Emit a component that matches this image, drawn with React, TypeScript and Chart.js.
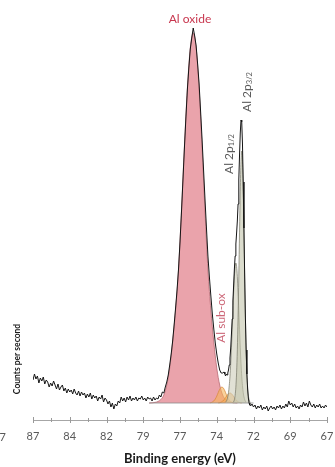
import React, { useEffect, useRef } from 'react';
import { Chart, registerables } from 'chart.js';

Chart.register(...registerables);

const FONT = 'Lato, "Open Sans", "DejaVu Sans", sans-serif';

// ---- Measured spectrum (binding energy, eV) ----
const spectrumEnergy = [
  87.0, 86.9, 86.8, 86.7, 86.6, 86.5, 86.4, 86.3, 86.2, 86.1,
  86.0, 85.9, 85.8, 85.7, 85.6, 85.5, 85.4, 85.3, 85.2, 85.1,
  85.0, 84.9, 84.8, 84.7, 84.6, 84.5, 84.4, 84.3, 84.2, 84.1,
  84.0, 83.9, 83.8, 83.7, 83.6, 83.5, 83.4, 83.3, 83.2, 83.1,
  83.0, 82.9, 82.8, 82.7, 82.6, 82.5, 82.4, 82.3, 82.2, 82.1,
  82.0, 81.9, 81.8, 81.7, 81.6, 81.5, 81.4, 81.3, 81.2, 81.1,
  81.0, 80.9, 80.8, 80.7, 80.6, 80.5, 80.4, 80.3, 80.2, 80.1,
  80.0, 79.9, 79.8, 79.7, 79.6, 79.5, 79.4, 79.3, 79.2, 79.1,
  79.0, 78.9, 78.8, 78.7, 78.6, 78.5, 78.4, 78.3, 78.2, 78.1,
  78.0, 77.9, 77.8, 77.7, 77.6, 77.5, 77.4, 77.3, 77.2, 77.1,
  77.0, 76.9, 76.8, 76.7, 76.6, 76.5, 76.4, 76.3, 76.2, 76.1,
  76.0, 75.9, 75.8, 75.7, 75.6, 75.5, 75.4, 75.3, 75.2, 75.1,
  75.0, 74.9, 74.8, 74.7, 74.6, 74.5, 74.4, 74.3, 74.2, 74.1,
  74.0,
  73.95, 73.9, 73.85, 73.8, 73.75, 73.7, 73.65, 73.6, 73.55, 73.5,
  73.45, 73.4, 73.35, 73.3, 73.25, 73.2, 73.15, 73.1, 73.05, 73.0,
  72.95, 72.9, 72.85, 72.8, 72.75, 72.7, 72.65, 72.6, 72.55, 72.5,
  72.45, 72.4, 72.35, 72.3, 72.25,
  72.2, 72.1, 72.0, 71.9, 71.8, 71.7, 71.6, 71.5, 71.4, 71.3,
  71.2, 71.1, 71.0, 70.9, 70.8, 70.7, 70.6, 70.5, 70.4, 70.3,
  70.2, 70.1, 70.0, 69.9, 69.8, 69.7, 69.6, 69.5, 69.4, 69.3,
  69.2, 69.1, 69.0, 68.9, 68.8, 68.7, 68.6, 68.5, 68.4, 68.3,
  68.2, 68.1, 68.0, 67.9, 67.8, 67.7, 67.6, 67.5, 67.4, 67.3,
  67.2, 67.1, 67.0,
];
const spectrumCounts = [
  40, 46, 41, 44, 37, 42, 39, 43, 36, 40,
  38, 33, 37, 34, 39, 35, 31, 36, 30, 33,
  35, 29, 32, 27, 31, 28, 30, 26, 31, 27,
  25, 29, 24, 28, 25, 27, 22, 26, 23, 27,
  21, 25, 22, 24, 19, 23, 21, 25, 18, 22,
  20, 16, 19, 13, 17, 11, 16, 14, 19, 17,
  23, 19, 22, 18, 23, 20, 24, 19, 22, 20,
  23, 19, 22, 21, 24, 20, 22, 19, 23, 21,
  22, 19, 23, 20, 22, 21, 25, 23, 28, 27,
  33, 38, 45, 55, 66, 79, 95, 112, 130, 151,
  178, 208, 240, 272, 302, 330, 352, 371, 382, 392,
  384, 374, 356, 336, 309, 281, 251, 221, 192, 164,
  143, 124, 106, 91, 77, 66, 57, 50, 47, 47,
  48,
  46, 44, 46, 45, 47, 50, 55, 62, 72, 86,
  101, 119, 135, 151, 164, 176, 187, 199, 216, 240,
  265, 287, 300, 298, 276, 238, 192, 144, 102, 70,
  46, 31, 22, 17, 15,
  14, 16, 13, 15, 11, 14, 12, 15, 10, 13,
  11, 14, 9, 12, 14, 11, 13, 10, 14, 12,
  15, 11, 14, 12, 16, 13, 19, 15, 17, 13,
  16, 12, 14, 11, 15, 13, 18, 14, 17, 13,
  19, 15, 13, 16, 12, 15, 13, 16, 12, 14,
  12, 15, 13,
];

// ---- Background ----
const backgroundEnergy = [79.1, 72.0];
const backgroundCounts = [17, 17];

// ---- Fitted components ----
const oxideEnergy = [
  79.1, 78.9, 78.7, 78.5, 78.3, 78.1, 77.9, 77.7, 77.5, 77.3,
  77.1, 76.9, 76.7, 76.5, 76.3, 76.1, 75.9, 75.7, 75.5, 75.3,
  75.1, 74.9, 74.7, 74.5, 74.3, 74.1, 73.9, 73.7, 73.5, 73.3, 73.1,
];
const oxideCounts = [
  17.0, 17.2, 17.6, 18.5, 20.5, 25, 35, 52, 78, 110,
  150, 209, 273, 331, 372, 387, 372, 331, 273, 209,
  150, 110, 78, 52, 35, 25, 20.5, 18.5, 17.6, 17.2, 17.0,
];

const subOx1Energy = [
  74.95, 74.85, 74.75, 74.65, 74.55, 74.45, 74.35, 74.25, 74.15,
  74.05, 73.95, 73.85, 73.75, 73.65, 73.55, 73.45, 73.35,
];
const subOx1Counts = [
  17.2, 17.6, 18.4, 19.9, 22.3, 25.6, 29.2, 31.9, 33,
  31.9, 29.2, 25.6, 22.3, 19.9, 18.4, 17.6, 17.2,
];

const subOx2Energy = [
  74.4, 74.3, 74.2, 74.1, 74.0, 73.9, 73.8, 73.7, 73.6,
  73.5, 73.4, 73.3, 73.2, 73.1, 73.0, 72.9, 72.8,
];
const subOx2Counts = [
  17.1, 17.3, 17.8, 18.8, 20.3, 22.4, 24.6, 26.3, 27,
  26.3, 24.6, 22.4, 20.3, 18.8, 17.8, 17.3, 17.1,
];

const p12Energy = [
  73.9, 73.85, 73.8, 73.75, 73.7, 73.65, 73.6, 73.55, 73.5, 73.45,
  73.4, 73.35, 73.3, 73.25, 73.2, 73.15, 73.1, 73.05, 73.0, 72.95,
  72.9, 72.85, 72.8, 72.75, 72.7, 72.65, 72.6, 72.55, 72.5,
];
const p12Counts = [
  17.9, 18.8, 20.4, 23.1, 27.6, 34.3, 43.8, 56.5, 72.2, 90.4,
  109.6, 128.0, 143.3, 153.4, 157, 153.4, 143.3, 128.0, 109.6, 90.4,
  72.2, 56.5, 43.8, 34.3, 27.6, 23.1, 20.4, 18.8, 17.9,
];

const p32Energy = [
  73.4, 73.35, 73.3, 73.25, 73.2, 73.15, 73.1, 73.05, 73.0, 72.95,
  72.9, 72.85, 72.8, 72.75, 72.7, 72.65, 72.6, 72.55, 72.5, 72.45,
  72.4, 72.35, 72.3, 72.25, 72.2,
];
const p32Counts = [
  17.5, 18.3, 20.3, 24.6, 32.8, 47.2, 70.1, 102.4, 143.1, 187.9,
  228.9, 258.3, 269, 258.3, 228.9, 187.9, 143.1, 102.4, 70.1, 47.2,
  32.8, 24.6, 20.3, 18.3, 17.5,
];

// ---- Axis ----
const majorTickValues = [87, 84.5, 82, 79.5, 77, 74.5, 72, 69.5, 67];
const tickLabels = ['87', '84', '82', '79', '77', '74', '72', '69', '67'];
const minorTickValues = [85.75, 83.25, 80.75, 78.25, 75.75, 73.25, 70.75, 68.25];

const peakLabels = [
  { text: 'Al oxide', sub: '', energy: 76.32, counts: 401, rotate: false, color: '#c8374f' },
  { text: 'Al 2p', sub: '3/2', energy: 72.44, counts: 328, rotate: true, color: '#5a5a5a' },
  { text: 'Al 2p', sub: '1/2', energy: 73.67, counts: 266, rotate: true, color: '#5a5a5a' },
  { text: 'Al sub-ox', sub: '', energy: 74.21, counts: 102, rotate: true, color: '#cc6677' },
];

function pts(xs: number[], ys: number[]) {
  return xs.map((x, i) => ({ x, y: ys[i] }));
}

export default function App() {
  const ref = useRef<HTMLCanvasElement | null>(null);

  useEffect(() => {
    if (!ref.current) return;

    const overlay = {
      id: 'xpsOverlay',
      afterDatasetsDraw(chart: any) {
        const { ctx, chartArea, scales } = chart;
        const xs = scales.x;
        const ys = scales.y;
        const b = chartArea.bottom;
        ctx.save();
        ctx.strokeStyle = '#9a9a9a';
        ctx.lineWidth = 1;
        majorTickValues.forEach((v) => {
          const px = Math.round(xs.getPixelForValue(v)) + 0.5;
          ctx.beginPath();
          ctx.moveTo(px, b - 3);
          ctx.lineTo(px, b + 3);
          ctx.stroke();
        });
        minorTickValues.forEach((v) => {
          const px = Math.round(xs.getPixelForValue(v)) + 0.5;
          ctx.beginPath();
          ctx.moveTo(px, b - 2);
          ctx.lineTo(px, b + 2);
          ctx.stroke();
        });

        peakLabels.forEach((l) => {
          const cx = xs.getPixelForValue(l.energy);
          const cy = ys.getPixelForValue(l.counts);
          const size = 12;
          const subSize = 7.5;
          ctx.save();
          ctx.translate(cx, cy);
          if (l.rotate) ctx.rotate(-Math.PI / 2);
          ctx.fillStyle = l.color;
          ctx.textBaseline = 'middle';
          ctx.textAlign = 'left';
          ctx.font = `${size}px ${FONT}`;
          const w1 = ctx.measureText(l.text).width;
          ctx.font = `${subSize}px ${FONT}`;
          const w2 = l.sub ? ctx.measureText(l.sub).width : 0;
          const x0 = -(w1 + w2) / 2;
          ctx.font = `${size}px ${FONT}`;
          ctx.fillText(l.text, x0, 0);
          if (l.sub) {
            ctx.font = `${subSize}px ${FONT}`;
            ctx.fillText(l.sub, x0 + w1, 3);
          }
          ctx.restore();
        });

        ctx.save();
        ctx.translate(chartArea.left - 16, ys.getPixelForValue(61));
        ctx.rotate(-Math.PI / 2);
        ctx.fillStyle = '#1a1a1a';
        ctx.font = `bold 8.5px ${FONT}`;
        ctx.textAlign = 'center';
        ctx.textBaseline = 'middle';
        ctx.fillText('Counts per second', 0, 0);
        ctx.restore();

        ctx.fillStyle = '#595959';
        ctx.font = `11px ${FONT}`;
        ctx.textAlign = 'right';
        ctx.textBaseline = 'middle';
        ctx.fillText('67', chartArea.left - 27, b + 17);

        ctx.restore();
      },
    };

    const chart = new Chart(ref.current, {
      type: 'line',
      data: {
        datasets: [
          {
            label: 'Spectrum',
            data: pts(spectrumEnergy, spectrumCounts),
            borderColor: '#151515',
            borderWidth: 1,
            pointRadius: 0,
            tension: 0,
            fill: false,
          },
          {
            label: 'Background',
            data: pts(backgroundEnergy, backgroundCounts),
            borderColor: '#8a8a8a',
            borderWidth: 0.8,
            pointRadius: 0,
            fill: false,
          },
          {
            label: 'Al 2p3/2',
            data: pts(p32Energy, p32Counts),
            borderColor: 'rgba(120,120,105,0.9)',
            backgroundColor: 'rgba(195,196,172,0.6)',
            borderWidth: 0.8,
            pointRadius: 0,
            cubicInterpolationMode: 'monotone',
            fill: { value: 17 },
          },
          {
            label: 'Al 2p1/2',
            data: pts(p12Energy, p12Counts),
            borderColor: 'rgba(120,120,105,0.9)',
            backgroundColor: 'rgba(205,205,185,0.6)',
            borderWidth: 0.8,
            pointRadius: 0,
            cubicInterpolationMode: 'monotone',
            fill: { value: 17 },
          },
          {
            label: 'Sub-oxide 2',
            data: pts(subOx2Energy, subOx2Counts),
            borderColor: 'rgba(215,135,55,0.9)',
            backgroundColor: 'rgba(245,170,75,0.55)',
            borderWidth: 0.8,
            pointRadius: 0,
            cubicInterpolationMode: 'monotone',
            fill: { value: 17 },
          },
          {
            label: 'Sub-oxide 1',
            data: pts(subOx1Energy, subOx1Counts),
            borderColor: 'rgba(215,135,55,0.9)',
            backgroundColor: 'rgba(247,180,90,0.6)',
            borderWidth: 0.8,
            pointRadius: 0,
            cubicInterpolationMode: 'monotone',
            fill: { value: 17 },
          },
          {
            label: 'Al oxide',
            data: pts(oxideEnergy, oxideCounts),
            borderColor: '#b86a74',
            backgroundColor: '#eaa3ab',
            borderWidth: 0.8,
            pointRadius: 0,
            cubicInterpolationMode: 'monotone',
            fill: { value: 17 },
          },
        ],
      },
      options: {
        responsive: false,
        maintainAspectRatio: false,
        devicePixelRatio: 1,
        animation: false,
        layout: { padding: { left: 33, right: 8, top: 20, bottom: 0 } },
        plugins: {
          legend: { display: false },
          tooltip: { enabled: false },
        },
        scales: {
          x: {
            type: 'linear',
            reverse: true,
            min: 67,
            max: 87,
            afterBuildTicks: (scale: any) => {
              scale.ticks = majorTickValues.map((v) => ({ value: v }));
            },
            afterFit: (scale: any) => {
              scale.height = 47;
              scale.paddingLeft = 0;
              scale.paddingRight = 0;
              scale.paddingTop = 0;
              scale.paddingBottom = 0;
            },
            ticks: {
              autoSkip: false,
              maxRotation: 0,
              minRotation: 0,
              color: '#595959',
              padding: 10,
              font: { family: FONT, size: 11 },
              callback: (_v: any, i: number) => tickLabels[i],
            },
            grid: { display: false, drawTicks: false, tickLength: 0 },
            border: { display: true, color: '#a6a6a6', width: 1 },
            title: {
              display: true,
              text: 'Binding energy (eV)',
              color: '#1a1a1a',
              font: { family: FONT, size: 13, weight: 'bold' },
              padding: { top: 8, bottom: 0 },
            },
          },
          y: { display: false, min: 0, max: 400 },
        },
      },
      plugins: [overlay],
    } as any);

    return () => chart.destroy();
  }, []);

  return (
    <div style={{ position: 'fixed', left: 0, top: 0, width: 335, height: 467, background: '#fff' }}>
      <canvas ref={ref} width={335} height={467} style={{ display: 'block', width: 335, height: 467 }} />
    </div>
  );
}
